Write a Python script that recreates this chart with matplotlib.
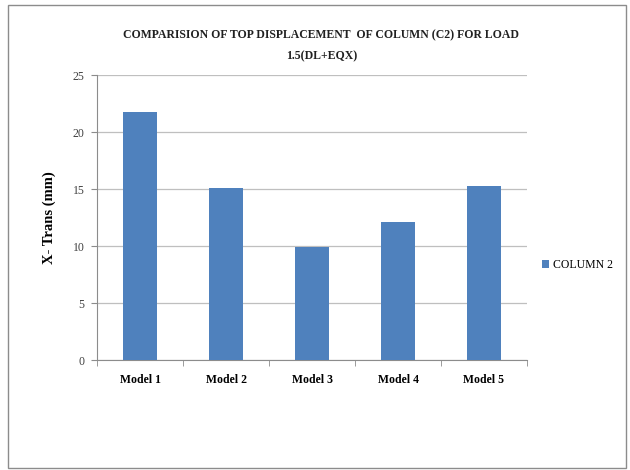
import matplotlib
matplotlib.use("Agg")
import matplotlib.pyplot as plt
from matplotlib.patches import Rectangle

models = ["Model 1", "Model 2", "Model 3", "Model 4", "Model 5"]
column2 = [21.8, 15.1, 9.9, 12.1, 15.3]
y_ticks = [0, 5, 10, 15, 20, 25]

plt.rcParams["font.family"] = ["Liberation Serif", "DejaVu Serif"]

fig = plt.figure(figsize=(6.3, 4.7), dpi=100)
fig.patches.append(Rectangle((8 / 630, 1 - 468 / 470), 618 / 630, 463 / 470,
                             transform=fig.transFigure, fill=False,
                             edgecolor="#8c8c8c", linewidth=1.0))

ax = fig.add_axes([0.154, 0.234, 0.6825, 0.606])
x = range(len(models))
ax.bar(x, column2, width=0.4, color="#4f81bd", label="COLUMN 2", zorder=3)

ax.set_xlim(-0.5, len(models) - 0.5)
ax.set_ylim(0, 25)
ax.set_yticks(y_ticks)
ax.set_yticklabels([str(v) for v in y_ticks], fontsize=8.5, color="#404040")
ax.set_xticks(list(x))
ax.set_xticklabels(models, fontsize=8.5, fontweight="bold")
ax.set_xticks([i - 0.5 for i in range(len(models) + 1)], minor=True)
ax.tick_params(axis="x", which="major", length=0, pad=10)
ax.tick_params(axis="x", which="minor", length=4, color="#8c8c8c")
ax.tick_params(axis="y", length=4, color="#8c8c8c", pad=5)

ax.grid(axis="y", color="#bfbfbf", linewidth=0.9, zorder=0)
for side in ["top", "right"]:
    ax.spines[side].set_visible(False)
for side in ["left", "bottom"]:
    ax.spines[side].set_color("#8c8c8c")

ax.set_ylabel("X- Trans (mm)", fontsize=10.5, fontweight="bold", labelpad=12)

fig.text(0.51, 0.903, "COMPARISION OF TOP DISPLACEMENT  OF COLUMN (C2) FOR LOAD\n1.5(DL+EQX)",
         ha="center", va="center", fontsize=8.5, fontweight="bold",
         linespacing=2.0, color="#202020")

ax.legend(loc="center left", bbox_to_anchor=(1.01, 0.333), frameon=False,
          fontsize=8.5, handlelength=0.6, handleheight=0.6, handletextpad=0.3)

fig.savefig("out.png", dpi=100)
